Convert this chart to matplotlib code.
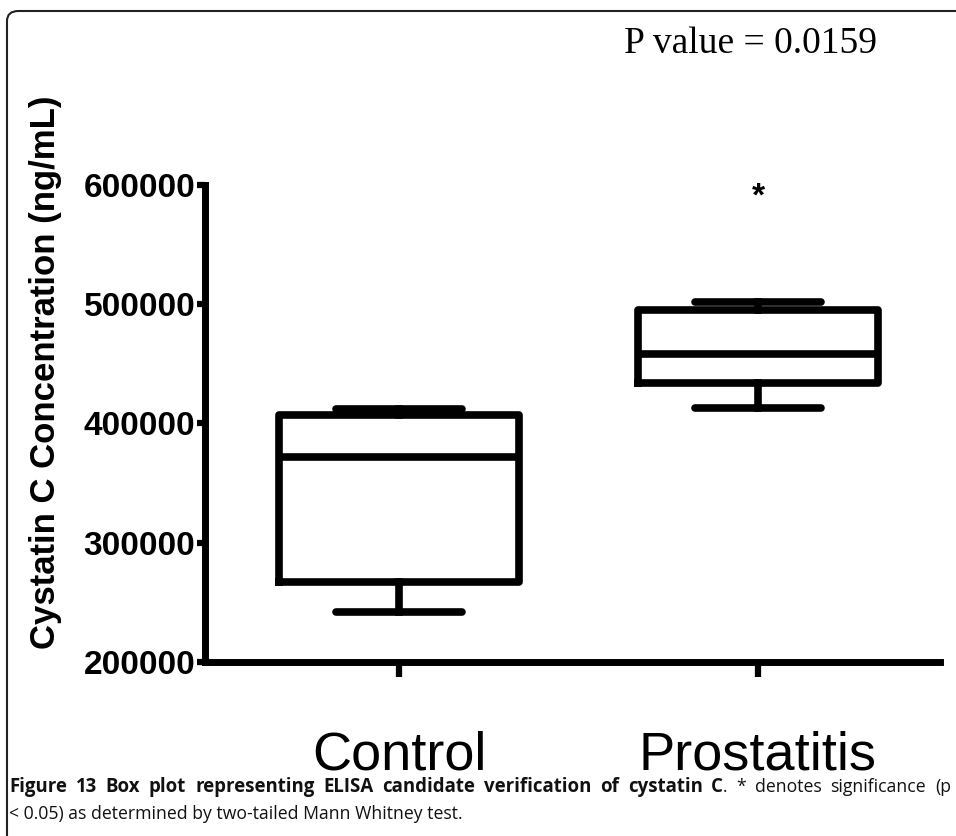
import matplotlib
matplotlib.use("Agg")
import matplotlib.pyplot as plt
from matplotlib.patches import FancyBboxPatch

# box statistics (ng/mL)
groups = ["Control", "Prostatitis"]
whisker_low = [242000, 413000]
q1 = [267000, 434000]
medians = [372000, 458000]
q3 = [407000, 495000]
whisker_high = [412000, 502000]
yticks = [200000, 300000, 400000, 500000, 600000]
star_y = 590000

caption_bold = "Figure 13 Box plot representing ELISA candidate verification of cystatin C"
caption_rest = ". * denotes significance (p"
caption_line2 = "< 0.05) as determined by two-tailed Mann Whitney test."

plt.rcParams['font.family'] = ['Liberation Sans', 'DejaVu Sans']

fig = plt.figure(figsize=(9.56, 8.36), dpi=100)
ax = fig.add_axes([205 / 956, 1 - 662 / 836, 735 / 956, 477 / 836])

stats = []
for i, g in enumerate(groups):
    stats.append(dict(label=g, whislo=whisker_low[i], q1=q1[i], med=medians[i],
                      q3=q3[i], whishi=whisker_high[i], fliers=[]))

lw = 5.5
ax.bxp(stats, positions=[1, 2], widths=0.67, capwidths=0.35, showfliers=False,
       boxprops=dict(linewidth=lw, color='black', solid_joinstyle='round'),
       medianprops=dict(linewidth=lw, color='black'),
       whiskerprops=dict(linewidth=lw, color='black'),
       capprops=dict(linewidth=lw, color='black', solid_capstyle='round'))

ax.text(2, star_y, '*', ha='center', va='center', fontsize=24, fontweight='bold')

ax.set_xlim(0.4596, 2.507)
ax.set_ylim(200000, 600000)
ax.set_yticks(yticks)
ax.set_yticklabels([str(v) for v in yticks], fontsize=24, fontweight='bold')
ax.set_xticks([1, 2])
ax.set_xticklabels(groups, fontsize=39)
ax.tick_params(axis='y', length=6, width=4.5, pad=1)
ax.tick_params(axis='x', length=11, width=4.5, pad=38)
for s in ['top', 'right']:
    ax.spines[s].set_visible(False)
for s in ['left', 'bottom']:
    ax.spines[s].set_linewidth(5)
ax.set_ylabel('Cystatin C Concentration (ng/mL)', fontsize=25, fontweight='bold')
ax.yaxis.set_label_coords(-0.1946, 0.608)

# P value annotation
fig.text(750 / 956, 1 - 53 / 836, 'P value = 0.0159', ha='center', va='baseline',
         fontsize=27, family=['Liberation Serif', 'DejaVu Serif'])

# rounded frame around figure
frame = FancyBboxPatch((7 / 956, -0.05), 1.1, 1 - 11 / 836 + 0.05,
                       boxstyle='round,pad=0,rounding_size=0.012',
                       transform=fig.transFigure, fill=False, edgecolor='#222222',
                       linewidth=1.5)
fig.add_artist(frame)

# caption, first line justified to the full width
cap_font = ['Open Sans', 'DejaVu Sans']
cap_size = 12.7
bold_size = 13.4
fig.canvas.draw()
renderer = fig.canvas.get_renderer()
W = fig.bbox.width

pieces = [[w, 'bold', bold_size, False] for w in caption_bold.split(' ')]
rest = caption_rest.split(' ')
pieces.append([rest[0], 'normal', cap_size, True])  # "." glued to the bold word
for w in rest[1:]:
    pieces.append([w, 'normal', cap_size, False])

texts = []
for w, wt, sz, glued in pieces:
    t = fig.text(0, 1 - 792 / 836, w, fontsize=sz, fontweight=wt,
                 family=cap_font, color='#111111', va='baseline')
    texts.append((t, t.get_window_extent(renderer=renderer).width, glued))

x0, x1 = 9, 951
n_gaps = sum(1 for _, _, g in texts[1:] if not g)
total = sum(wd for _, wd, _ in texts)
gap = (x1 - x0 - total) / n_gaps
x = x0
for i, (t, wd, glued) in enumerate(texts):
    if i > 0 and not glued:
        x += gap
    t.set_x(x / W)
    x += wd

fig.text(9 / 956, 1 - 819 / 836, caption_line2,
         fontsize=cap_size, family=cap_font, color='#111111', va='baseline')

fig.savefig('out.png', dpi=100)
